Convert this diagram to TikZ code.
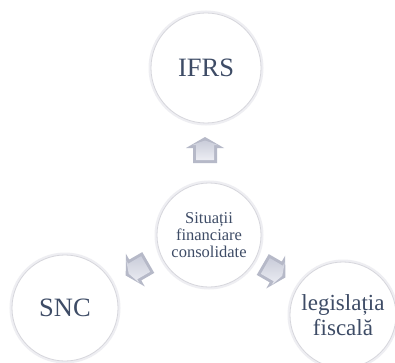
\documentclass[tikz,border=0pt]{standalone}
\usepackage{fontspec}
\setmainfont{Liberation Serif}
\usetikzlibrary{shadings}

\definecolor{txtcol}{RGB}{62,76,102}
\definecolor{rimgray}{RGB}{214,214,220}
\definecolor{halo}{RGB}{238,238,242}
\definecolor{arrowdark}{RGB}{182,185,200}
\definecolor{arrowlight}{RGB}{236,237,243}
\definecolor{arrowmid}{RGB}{202,205,218}

% pearl-like sphere: white core, soft grey band towards the rim
\pgfdeclareradialshading{pearl}{\pgfpoint{0bp}{8bp}}{%
  color(0bp)=(white);
  color(30bp)=(white);
  color(40bp)=(white!93!gray);
  color(46bp)=(white!82!gray);
  color(49bp)=(white!76!gray);
  color(50bp)=(white!88!gray)}

\tikzset{
  pearlnode/.style={circle, inner sep=0pt, shade, shading=pearl,
    draw=rimgray, line width=0.8pt, text=txtcol, align=center,
    preaction={draw=halo, line width=5pt}},
  blockarrow/.pic={
    \fill[arrowdark] (-13,-12) -- (2,-12) -- (2,-19) -- (13,0)
      -- (2,19) -- (2,12) -- (-13,12) -- cycle;
    \shade[left color=arrowmid, right color=arrowlight, shading angle=0]
      (-10,-9) -- (5,-9) -- (5,-13) -- (9.5,0)
      -- (5,13) -- (5,9) -- (-10,9) -- cycle;
  }
}

\begin{document}
\begin{tikzpicture}[x=1pt, y=1pt]
  \useasboundingbox (0,0) rectangle (395,362);
  \clip (0,0) rectangle (395,362);
  \fill[white] (0,0) rectangle (395,362);

  % circles
  \node[pearlnode, minimum size=110pt,
        font=\fontsize{26.5}{26.5}\selectfont] (ifrs) at (206,294) {IFRS};
  \node[pearlnode, minimum size=104pt,
        font=\fontsize{16.5}{17}\selectfont] (centre) at (209,127)
    {Situații\\financiare\\consolidate};
  \node[pearlnode, minimum size=106pt,
        font=\fontsize{26.5}{26.5}\selectfont] (snc) at (65,54) {SNC};
  \node[pearlnode, minimum size=106pt,
        font=\fontsize{23}{24.5}\selectfont] (legis) at (343,47)
    {legislația\\fiscală};

  % block arrows from the centre towards each outer circle
  \coordinate (aup) at (205,212);
  \coordinate (aleft) at (137,93);
  \coordinate (aright) at (274,91);
  \pic[rotate=90] at (aup) {blockarrow};
  \pic[rotate=210] at (aleft) {blockarrow};
  \pic[rotate=-30] at (aright) {blockarrow};
\end{tikzpicture}
\end{document}
